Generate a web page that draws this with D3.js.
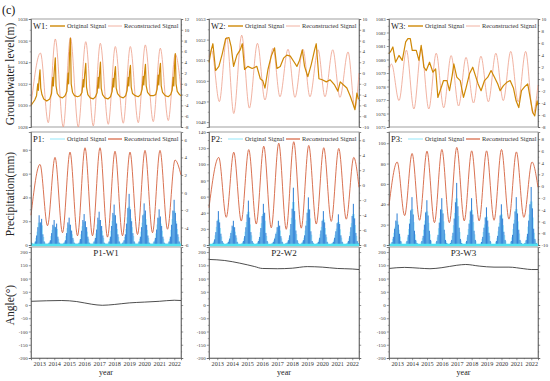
<!DOCTYPE html>
<html>
<head>
<meta charset="utf-8">
<script src="https://cdn.jsdelivr.net/npm/d3@7"></script>
<style>
  body { margin: 0; background: #fff; }
  text { font-family: "Liberation Serif", "Times New Roman", serif; }
</style>
</head>
<body>
<div id="svgContainer"></div>
<script>
// ---------- data ----------
const yearTicks = [2013, 2014, 2015, 2016, 2017, 2018, 2019, 2020, 2021, 2022];
const xDomain = [2012.45, 2022.45];
const barStart = 2012.45;

const wNames = ["W1:", "W2:", "W3:"];
const pNames = ["P1:", "P2:", "P3:"];
const aNames = ["P1-W1", "P2-W2", "P3-W3"];

const wLeftDom = [[1028, 1038], [1047.76, 1053], [1075, 1083]];
const wLeftTicks = [
  [1028, 1030, 1032, 1034, 1036, 1038],
  [1048, 1049, 1050, 1051, 1052, 1053],
  [1075, 1076, 1077, 1078, 1079, 1080, 1081, 1082, 1083]
];
const wRightDom = [[-8, 12], [-10, 10], [-8, 10]];
const wRightTicks = [
  [-8, -6, -4, -2, 0, 2, 4, 6, 8, 10, 12],
  [-10, -8, -6, -4, -2, 0, 2, 4, 6, 8, 10],
  [-8, -6, -4, -2, 0, 2, 4, 6, 8, 10]
];
const pLeftDom = [[0, 95], [0, 140], [0, 111]];
const pLeftTicks = [
  [0, 20, 40, 60, 80],
  [0, 20, 40, 60, 80, 100, 120, 140],
  [0, 20, 40, 60, 80, 100]
];
const pRightDom = [[-6, 6.9], [-8, 7.1], [-10, 9.2]];
const pRightTicks = [
  [-6, -4, -2, 0, 2, 4, 6],
  [-8, -6, -4, -2, 0, 2, 4, 6],
  [-10, -8, -6, -4, -2, 0, 2, 4, 6, 8]
];
const angleDom = [-200, 219];
const angleTicks = [-200, -150, -100, -50, 0, 50, 100, 150, 200];

// groundwater, original signal [year, m]
const w1Orig = [
  [2012.45,1030.0],[2012.55,1030.2],[2012.7,1030.5],[2012.82,1030.9],[2012.9,1032.0],[2012.94,1031.4],[2013.0,1032.6],[2013.05,1033.3],[2013.1,1031.6],[2013.18,1031.0],[2013.3,1030.6],[2013.5,1030.4],
  [2013.7,1030.6],[2013.82,1031.1],[2013.9,1032.6],[2013.94,1031.8],[2014.0,1033.2],[2014.07,1034.4],[2014.12,1031.8],[2014.2,1031.1],[2014.35,1030.8],[2014.55,1030.7],
  [2014.72,1030.9],[2014.84,1031.3],[2014.92,1033.0],[2014.96,1032.0],[2015.02,1034.8],[2015.08,1036.2],[2015.13,1032.0],[2015.22,1031.2],[2015.35,1030.9],[2015.55,1030.8],
  [2015.72,1030.9],[2015.85,1031.2],[2015.93,1032.4],[2015.97,1031.7],[2016.03,1032.9],[2016.1,1033.9],[2016.15,1031.7],[2016.24,1031.0],[2016.4,1030.7],[2016.6,1030.6],
  [2016.75,1030.8],[2016.86,1031.2],[2016.93,1032.6],[2016.97,1031.6],[2017.02,1033.0],[2017.08,1034.0],[2017.13,1031.6],[2017.22,1031.0],[2017.38,1030.7],[2017.58,1030.6],
  [2017.75,1030.8],[2017.86,1031.3],[2017.93,1032.5],[2017.97,1031.7],[2018.02,1032.9],[2018.08,1033.6],[2018.13,1031.6],[2018.22,1031.1],[2018.4,1030.8],[2018.6,1030.7],
  [2018.76,1030.9],[2018.86,1031.4],[2018.93,1032.6],[2018.97,1031.8],[2019.02,1033.1],[2019.08,1033.7],[2019.13,1031.7],[2019.22,1031.1],[2019.4,1030.9],[2019.6,1030.8],
  [2019.76,1031.0],[2019.86,1031.5],[2019.93,1032.7],[2019.97,1031.9],[2020.02,1033.0],[2020.08,1033.8],[2020.13,1031.8],[2020.22,1031.2],[2020.4,1030.9],[2020.6,1030.9],
  [2020.76,1031.0],[2020.86,1031.5],[2020.93,1032.8],[2020.97,1031.9],[2021.02,1033.2],[2021.08,1033.9],[2021.13,1031.8],[2021.22,1031.2],[2021.4,1030.9],[2021.6,1030.8],
  [2021.76,1031.0],[2021.86,1031.4],[2021.93,1032.6],[2021.97,1031.8],[2022.02,1033.6],[2022.07,1034.8],[2022.12,1032.0],[2022.2,1031.3],[2022.35,1031.0],[2022.45,1030.9]
];
const w2Orig = [
  [2012.45,1050.9],[2012.6,1051.5],[2012.71,1051.8],[2012.89,1050.5],[2013.11,1050.7],[2013.33,1051.3],[2013.56,1052.05],[2013.78,1052.1],[2013.93,1051.65],
  [2014.09,1050.7],[2014.31,1051.25],[2014.53,1051.5],[2014.67,1051.8],[2014.82,1050.55],[2015.04,1050.7],[2015.33,1050.6],[2015.64,1050.7],[2015.87,1050.1],
  [2016.04,1050.0],[2016.18,1049.65],[2016.38,1050.55],[2016.6,1051.2],[2016.82,1051.6],[2016.98,1050.6],[2017.2,1050.7],[2017.42,1051.1],[2017.64,1051.25],
  [2017.87,1051.2],[2018.09,1050.95],[2018.31,1050.7],[2018.49,1051.0],[2018.67,1051.5],[2018.82,1050.7],[2019.04,1050.2],[2019.27,1050.8],[2019.49,1051.5],
  [2019.6,1051.8],[2019.78,1050.1],[2020.0,1050.05],[2020.27,1049.95],[2020.53,1050.05],[2020.82,1049.8],[2021.04,1049.5],[2021.2,1049.95],[2021.42,1049.8],
  [2021.64,1049.65],[2021.87,1049.25],[2022.04,1048.9],[2022.18,1048.6],[2022.31,1049.4],[2022.42,1049.1]
];
const w3Orig = [
  [2012.45,1080.43],[2012.6,1080.68],[2012.71,1080.93],[2012.89,1079.8],[2013.12,1080.3],[2013.34,1079.93],[2013.57,1081.3],[2013.72,1081.55],[2013.88,1081.55],
  [2014.01,1080.68],[2014.28,1080.68],[2014.46,1079.93],[2014.61,1081.05],[2014.79,1079.43],[2014.95,1079.18],[2015.17,1079.8],[2015.4,1079.06],[2015.58,1079.3],
  [2015.73,1077.19],[2015.96,1077.94],[2016.11,1078.44],[2016.34,1078.44],[2016.51,1077.69],[2016.69,1078.81],[2016.8,1079.68],[2017.0,1078.69],[2017.23,1078.44],
  [2017.45,1077.19],[2017.63,1077.94],[2017.85,1078.94],[2018.07,1079.43],[2018.25,1078.81],[2018.43,1078.19],[2018.63,1077.69],[2018.86,1078.44],[2019.08,1078.69],
  [2019.3,1079.18],[2019.53,1078.69],[2019.75,1078.19],[2019.91,1077.69],[2020.13,1078.06],[2020.36,1078.31],[2020.58,1078.44],[2020.8,1077.89],[2020.98,1076.94],
  [2021.16,1076.44],[2021.34,1077.69],[2021.56,1077.99],[2021.76,1078.19],[2021.92,1077.19],[2022.1,1076.07],[2022.23,1075.82],[2022.39,1076.94],[2022.45,1076.6]
];

// reconstructed signals: turning points [year, value]
const w1Rec = [[2012.45,-4],[2013.08,5.7],[2013.6,-7.2],[2014.07,8.3],[2014.6,-8.0],[2015.08,8.6],[2015.6,-8.0],[2016.1,7.8],[2016.6,-7.8],[2017.07,7.5],[2017.6,-7.5],[2018.07,6.9],[2018.6,-7.3],[2019.07,6.9],[2019.6,-7.2],[2020.07,7.2],[2020.6,-7.0],[2021.07,6.6],[2021.6,-6.8],[2022.07,5.5],[2022.45,-1]];
const w2Rec = [[2012.45,3.0],[2012.62,4.2],[2013.14,-5.3],[2013.63,6.6],[2014.1,-7.5],[2014.63,7.0],[2015.14,-6.5],[2015.68,5.5],[2016.18,-5.0],[2016.72,4.6],[2017.18,-4.4],[2017.72,4.4],[2018.18,-4.5],[2018.72,4.4],[2019.18,-4.4],[2019.72,4.3],[2020.18,-4.4],[2020.7,4.3],[2021.18,-4.5],[2021.72,3.9],[2022.18,-6.5],[2022.45,0]];
const w3Rec = [[2012.45,1.5],[2012.62,2.5],[2013.12,-3.6],[2013.62,4.8],[2014.12,-5.0],[2014.62,5.0],[2015.12,-5.0],[2015.62,4.3],[2016.12,-4.8],[2016.62,3.9],[2017.12,-4.5],[2017.62,3.6],[2018.12,-4.0],[2018.62,3.8],[2019.12,-3.8],[2019.62,4.3],[2020.12,-3.6],[2020.62,4.6],[2021.12,-3.8],[2021.62,4.6],[2022.12,-5.8],[2022.45,-1]];
const p1Rec = [[2012.45,-2.6],[2013.05,3.2],[2013.55,-3.8],[2014.05,4.0],[2014.55,-4.6],[2015.05,4.6],[2015.55,-4.95],[2016.05,5.1],[2016.55,-4.95],[2017.05,5.1],[2017.55,-5.1],[2018.05,4.7],[2018.55,-4.95],[2019.05,4.6],[2019.55,-4.8],[2020.05,4.8],[2020.55,-4.6],[2021.05,4.8],[2021.55,-4.2],[2022.05,3.7],[2022.45,2.0]];
const p2Rec = [[2012.45,-3.0],[2013.1,3.7],[2013.6,-4.3],[2014.1,4.4],[2014.6,-4.8],[2015.1,4.75],[2015.6,-5.2],[2016.1,5.2],[2016.6,-5.7],[2017.1,5.6],[2017.6,-5.9],[2018.1,5.8],[2018.6,-5.75],[2019.1,5.3],[2019.6,-5.2],[2020.1,5.0],[2020.6,-4.85],[2021.1,4.9],[2021.6,-4.55],[2022.1,3.7],[2022.45,-0.3]];
const p3Rec = [[2012.45,-3.3],[2013.0,4.1],[2013.5,-5.0],[2014.0,5.55],[2014.5,-5.8],[2015.0,5.94],[2015.5,-6.2],[2016.0,6.23],[2016.5,-6.2],[2017.0,6.58],[2017.5,-5.9],[2018.0,6.0],[2018.5,-5.9],[2019.0,6.0],[2019.5,-5.8],[2020.0,6.23],[2020.5,-5.6],[2021.0,5.82],[2021.5,-5.3],[2022.05,4.1],[2022.45,-0.2]];

// precipitation, monthly bars (mm), from barStart
const p1Bars = [
  2,1,1,3,8,15,25,19,22,9,3,1, 1,1,2,4,10,17,21,15,18,7,2,1, 1,1,2,4,10,19,23,17,12,6,2,1,
  1,1,2,5,12,21,26,20,15,7,2,1, 1,1,3,6,13,23,28,21,16,8,2,1, 1,1,3,7,16,27,34,25,18,9,3,1,
  1,2,4,9,18,31,43,30,20,10,3,1, 1,1,3,7,15,25,35,29,17,8,2,1, 1,1,3,6,13,23,30,24,16,7,2,1,
  1,1,3,7,17,29,38,27,18,9,3,1
];
const p2Bars = [
  1,1,1,3,7,16,30,42,28,14,5,2, 1,1,2,4,8,15,24,30,22,12,4,1, 1,1,2,5,11,22,38,55,34,16,5,2,
  1,1,2,5,10,21,36,51,40,15,5,1, 1,1,2,4,8,14,22,30,24,11,4,1, 1,2,3,6,12,26,45,71,42,18,6,2,
  1,1,3,6,12,24,40,59,44,17,5,2, 1,1,2,4,9,18,30,42,28,13,4,1, 1,1,2,4,9,17,27,38,26,12,4,1,
  1,1,2,5,11,22,36,51,33,15,5,2
];
const p3Bars = [
  1,1,3,8,16,24,31,20,11,4,1,1, 1,1,4,10,21,34,47,30,14,5,2,1, 1,1,4,9,20,32,44,29,14,5,1,1,
  1,1,4,10,22,35,46,31,15,5,2,1, 1,2,5,12,26,42,61,38,17,6,2,1, 1,1,4,10,21,33,46,30,14,5,1,1,
  1,1,3,8,17,27,37,24,12,4,1,1, 1,1,4,9,18,29,40,26,13,5,1,1, 1,1,4,10,21,33,47,31,15,5,2,1,
  1,2,5,11,24,40,57,36,16,6,2,1
];

// angle (degrees)
const a1 = [[2012.45,14],[2013.5,16],[2014.5,17],[2015.5,13],[2016.5,3],[2017.2,-1],[2018,2],[2019,8],[2020,11],[2021,14],[2022,18],[2022.45,17]];
const a2 = [[2012.45,172],[2013.5,168],[2014.5,158],[2015.5,145],[2016,138],[2017,137],[2018,139],[2019,145],[2020,143],[2021,138],[2022,136],[2022.45,134]];
const a3 = [[2012.45,138],[2013.5,142],[2014.5,139],[2015.2,137],[2016,141],[2017,150],[2017.6,153],[2018.5,147],[2019.5,143],[2020.5,143],[2021.5,137],[2022,134],[2022.45,134]];

const wOrig = [w1Orig, w2Orig, w3Orig];
const wRec = [w1Rec, w2Rec, w3Rec];
const pRec = [p1Rec, p2Rec, p3Rec];
const pBars = [p1Bars, p2Bars, p3Bars];
const angles = [a1, a2, a3];

// ---------- layout ----------
const width = 550, height = 381;
const cols = [{x0: 31, x1: 181}, {x0: 209, x1: 359}, {x0: 389, x1: 538}];
const rows = [{y0: 19, y1: 127}, {y0: 132, y1: 245}, {y0: 247, y1: 358}];

const cOrig = "#cf8806", cRecW = "#eea08a", cRecP = "#d5623e",
      cBar = "#3583d6", cHalo = "#a6ecfb", cCyan = "#52e2f0", cFrame = "#888";

const svg = d3.select("#svgContainer").append("svg")
    .attr("width", width).attr("height", height)
    .attr("viewBox", `0 0 ${width} ${height}`)
    .style("display", "block");

const num = d => String(d);

function yAxis(g, scale, ticks, side, x, labels) {
    const mk = side === "left" ? d3.axisLeft : d3.axisRight;
    const a = g.append("g").attr("transform", `translate(${x},0)`)
        .call(mk(scale).tickValues(ticks).tickSize(2.2).tickPadding(1.2)
            .tickFormat(labels ? num : ""));
    a.select(".domain").attr("stroke", "#555").attr("stroke-width", 0.7);
    a.selectAll(".tick line").attr("stroke", "#555").attr("stroke-width", 0.6);
    a.selectAll("text").attr("font-size", 4.9).attr("fill", "#333")
        .attr("font-family", "Liberation Serif");
    const minor = d3.pairs(ticks, (p, q) => (p + q) / 2);
    const m = g.append("g").attr("transform", `translate(${x},0)`)
        .call(mk(scale).tickValues(minor).tickSize(1.2).tickFormat(""));
    m.select(".domain").remove();
    m.selectAll(".tick line").attr("stroke", "#555").attr("stroke-width", 0.5);
}

function frame(g, c, r) {
    g.append("rect").attr("x", c.x0).attr("y", r.y0)
        .attr("width", c.x1 - c.x0).attr("height", r.y1 - r.y0)
        .attr("fill", "none").attr("stroke", cFrame).attr("stroke-width", 0.8);
}

function legend(g, c, r, name, col1, w1, col2, w2) {
    const y = r.y0 + 9;
    g.append("text").attr("x", c.x0 + 2).attr("y", y + 1).attr("font-size", 8.5)
        .attr("fill", "#222").text(name);
    g.append("line").attr("x1", c.x0 + 19).attr("x2", c.x0 + 34).attr("y1", y - 2).attr("y2", y - 2)
        .attr("stroke", col1).attr("stroke-width", w1);
    g.append("text").attr("x", c.x0 + 36).attr("y", y).attr("font-size", 6.4)
        .attr("fill", "#333").text("Original Signal");
    g.append("line").attr("x1", c.x0 + 77).attr("x2", c.x0 + 91).attr("y1", y - 2).attr("y2", y - 2)
        .attr("stroke", col2).attr("stroke-width", w2);
    g.append("text").attr("x", c.x0 + 93).attr("y", y).attr("font-size", 6.4)
        .attr("fill", "#333").text("Reconstructed Signal");
}

cols.forEach((c, i) => {
    const x = d3.scaleLinear().domain(xDomain).range([c.x0, c.x1]);

    // ---- groundwater row ----
    const r0 = rows[0];
    const g0 = svg.append("g");
    const yL = d3.scaleLinear().domain(wLeftDom[i]).range([r0.y1, r0.y0]);
    const yR = d3.scaleLinear().domain(wRightDom[i]).range([r0.y1, r0.y0]);
    frame(g0, c, r0);
    g0.append("path").datum(wRec[i])
        .attr("d", d3.line().x(d => x(d[0])).y(d => yR(d[1])).curve(d3.curveMonotoneX))
        .attr("fill", "none").attr("stroke", cRecW).attr("stroke-width", 0.8);
    g0.append("path").datum(wOrig[i])
        .attr("d", d3.line().x(d => x(d[0])).y(d => yL(d[1])))
        .attr("fill", "none").attr("stroke", cOrig).attr("stroke-width", 1.2)
        .attr("stroke-linejoin", "round");
    yAxis(g0, yL, wLeftTicks[i], "left", c.x0, true);
    yAxis(g0, yR, wRightTicks[i], "right", c.x1, true);
    legend(g0, c, r0, wNames[i], cOrig, 1.4, cRecW, 0.8);

    // ---- precipitation row ----
    const r1 = rows[1];
    const g1 = svg.append("g");
    const pL = d3.scaleLinear().domain(pLeftDom[i]).range([r1.y1, r1.y0]);
    const pR = d3.scaleLinear().domain(pRightDom[i]).range([r1.y1, r1.y0]);
    frame(g1, c, r1);
    const bars = pBars[i].map((v, k) => ({t: barStart + (k + 0.5) / 12, v}));
    const bw = (x(barStart + 1 / 12) - x(barStart));
    g1.append("g").selectAll("rect").data(bars).join("rect")
        .attr("x", d => x(d.t) - bw * 1.1).attr("width", bw * 2.2)
        .attr("y", d => pL(d.v * 0.75)).attr("height", d => pL(0) - pL(d.v * 0.75))
        .attr("fill", cHalo);
    g1.append("g").selectAll("rect").data(bars).join("rect")
        .attr("x", d => x(d.t) - bw * 0.42).attr("width", bw * 0.84)
        .attr("y", d => pL(d.v)).attr("height", d => pL(0) - pL(d.v))
        .attr("fill", cBar);
    g1.append("path").datum(pRec[i])
        .attr("d", d3.line().x(d => x(d[0])).y(d => pR(d[1])).curve(d3.curveMonotoneX))
        .attr("fill", "none").attr("stroke", cRecP).attr("stroke-width", 0.9);
    g1.append("line").attr("x1", c.x0).attr("x2", c.x1)
        .attr("y1", pL(0)).attr("y2", pL(0))
        .attr("stroke", cCyan).attr("stroke-width", 2.6);
    yAxis(g1, pL, pLeftTicks[i], "left", c.x0, true);
    yAxis(g1, pR, pRightTicks[i], "right", c.x1, true);
    legend(g1, c, r1, pNames[i], cHalo, 1.2, cRecP, 1.2);

    // ---- angle row ----
    const r2 = rows[2];
    const g2 = svg.append("g");
    const aY = d3.scaleLinear().domain(angleDom).range([r2.y1, r2.y0]);
    frame(g2, c, r2);
    g2.append("path").datum(angles[i])
        .attr("d", d3.line().x(d => x(d[0])).y(d => aY(d[1])).curve(d3.curveMonotoneX))
        .attr("fill", "none").attr("stroke", "#3a3a3a").attr("stroke-width", 0.9);
    yAxis(g2, aY, angleTicks, "left", c.x0, true);
    yAxis(g2, aY, angleTicks, "right", c.x1, false);
    const xa = g2.append("g").attr("transform", `translate(0,${r2.y1})`)
        .call(d3.axisBottom(x).tickValues(yearTicks).tickSize(2.2).tickPadding(1.5).tickFormat(num));
    xa.select(".domain").attr("stroke", "#555").attr("stroke-width", 0.7);
    xa.selectAll(".tick line").attr("stroke", "#555").attr("stroke-width", 0.6);
    xa.selectAll("text").attr("font-size", 6.2).attr("fill", "#333").attr("font-family", "Liberation Serif");
    const xm = g2.append("g").attr("transform", `translate(0,${r2.y1})`)
        .call(d3.axisBottom(x).tickValues(yearTicks.map(y => y + 0.5).slice(0, 9)).tickSize(1.2).tickFormat(""));
    xm.select(".domain").remove();
    xm.selectAll(".tick line").attr("stroke", "#555").attr("stroke-width", 0.5);
    g2.append("text").attr("x", (c.x0 + c.x1) / 2).attr("y", r2.y0 + 9)
        .attr("text-anchor", "middle").attr("font-size", 9).attr("fill", "#222").text(aNames[i]);
    svg.append("text").attr("x", (c.x0 + c.x1) / 2).attr("y", 375)
        .attr("text-anchor", "middle").attr("font-size", 8).attr("fill", "#222").text("year");
});

// titles
svg.append("text").attr("x", 2).attr("y", 14).attr("font-size", 12).attr("fill", "#111").text("(c)");
[["Groundwater level(m)", 74], ["Precipitation(mm)", 194], ["Angle(°)", 305]].forEach(([t, cy]) => {
    svg.append("text").attr("transform", `translate(14,${cy}) rotate(-90)`)
        .attr("text-anchor", "middle").attr("font-size", 11.5).attr("fill", "#222").text(t);
});
</script>
</body>
</html>
